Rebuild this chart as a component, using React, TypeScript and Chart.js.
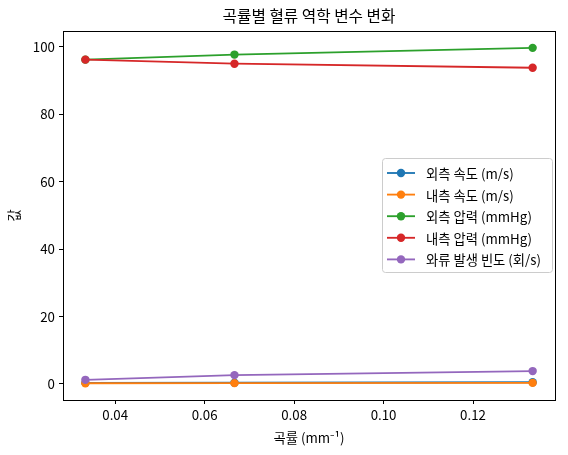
import React, { useEffect, useRef } from "react";
import { Chart, registerables } from "chart.js";

Chart.register(...registerables);

const FONT = "'Noto Sans CJK KR', 'Noto Sans', sans-serif";

const curvature = [1 / 30, 1 / 15, 2 / 15];
const outerVelocity = [0.3, 0.35, 0.5];
const innerVelocity = [0.2, 0.22, 0.3];
const outerPressure = [96.2, 97.7, 99.7];
const innerPressure = [96.2, 95.0, 93.8];
const vortexFreq = [1.2, 2.6, 3.8];

const seriesLabels = [
  "외측 속도 (m/s)",
  "내측 속도 (m/s)",
  "외측 압력 (mmHg)",
  "내측 압력 (mmHg)",
  "와류 발생 빈도 (회/s)",
];
const seriesColors = ["#1f77b4", "#ff7f0e", "#2ca02c", "#d62728", "#9467bd"];
const seriesValues = [outerVelocity, innerVelocity, outerPressure, innerPressure, vortexFreq];

const xTicks = [0.04, 0.06, 0.08, 0.1, 0.12];
const yTicks = [0, 20, 40, 60, 80, 100];

const title = "곡률별 혈류 역학 변수 변화";
const xTitle = "곡률 (mm⁻¹)";
const yTitle = "값";

const LABEL_SIZE = 13.3;
const TITLE_SIZE = 15.7;

const framePlugin = {
  id: "frame",
  afterDatasetsDraw(chart: any) {
    const { ctx, chartArea: a } = chart;
    ctx.save();
    ctx.strokeStyle = "#000";
    ctx.lineWidth = 1;
    ctx.strokeRect(Math.round(a.left) + 0.5, Math.round(a.top) + 0.5, Math.round(a.right - a.left), Math.round(a.bottom - a.top));
    ctx.restore();
  },
};

const titlePlugin = {
  id: "areaTitle",
  afterDraw(chart: any) {
    const { ctx, chartArea: a } = chart;
    ctx.save();
    ctx.font = `${TITLE_SIZE}px ${FONT}`;
    ctx.fillStyle = "#000";
    ctx.textAlign = "center";
    ctx.textBaseline = "middle";
    ctx.fillText(title, (a.left + a.right) / 2, 16);
    ctx.restore();
  },
};

const legendPlugin = {
  id: "mplLegend",
  afterDraw(chart: any) {
    const { ctx } = chart;
    const ds = chart.data.datasets;
    const bx = 382.5, by = 158.5, bw = 170, bh = 114;
    ctx.save();
    ctx.fillStyle = "rgba(255,255,255,0.8)";
    ctx.strokeStyle = "#cccccc";
    ctx.lineWidth = 1;
    ctx.beginPath();
    (ctx as any).roundRect(bx, by, bw, bh, 3);
    ctx.fill();
    ctx.stroke();
    ctx.font = `${LABEL_SIZE}px ${FONT}`;
    ctx.textBaseline = "middle";
    ctx.textAlign = "left";
    ds.forEach((d: any, i: number) => {
      const y = 173 + i * 21.6;
      ctx.strokeStyle = d.borderColor;
      ctx.lineWidth = 1.85;
      ctx.beginPath();
      ctx.moveTo(387, y);
      ctx.lineTo(415, y);
      ctx.stroke();
      ctx.fillStyle = d.borderColor;
      ctx.beginPath();
      ctx.arc(401, y, 4.2, 0, Math.PI * 2);
      ctx.fill();
      ctx.fillStyle = "#000";
      ctx.fillText(d.label, 426, y + 1);
    });
    ctx.restore();
  },
};

export default function App() {
  const ref = useRef<HTMLCanvasElement>(null);
  useEffect(() => {
    document.body.style.margin = "0";
    const datasets = seriesLabels.map((label, i) => ({
      label,
      data: curvature.map((x, j) => ({ x, y: seriesValues[i][j] })),
      borderColor: seriesColors[i],
      backgroundColor: seriesColors[i],
      pointBackgroundColor: seriesColors[i],
      pointBorderWidth: 0,
      pointRadius: 4.2,
      borderWidth: 1.85,
      tension: 0,
      order: seriesLabels.length - i,
    }));
    const chart = new Chart(ref.current as HTMLCanvasElement, {
      type: "line",
      data: { datasets },
      options: {
        responsive: false,
        animation: false,
        devicePixelRatio: 1,
        layout: { padding: { left: 0, right: 13, top: 31, bottom: 0 } },
        plugins: {
          legend: { display: false },
          tooltip: { enabled: false },
          title: { display: false },
        },
        scales: {
          x: {
            type: "linear",
            min: 0.02833,
            max: 0.13833,
            afterFit: (s: any) => { s.height = 55; },
            afterBuildTicks: (s: any) => { s.ticks = xTicks.map((v) => ({ value: v })); },
            ticks: {
              color: "#000",
              font: { family: FONT, size: LABEL_SIZE },
              padding: 3,
              maxRotation: 0,
              callback: (v: any) => Number(v).toFixed(2),
            },
            grid: { drawOnChartArea: false, drawTicks: true, tickLength: 4, color: "#000", tickColor: "#000" },
            border: { display: true, color: "#000" },
            title: {
              display: true,
              text: xTitle,
              color: "#000",
              font: { family: FONT, size: LABEL_SIZE },
              padding: { top: 9, bottom: 9 },
            },
          },
          y: {
            type: "linear",
            min: -4.78,
            max: 104.7,
            afterFit: (s: any) => { s.width = 63; },
            afterBuildTicks: (s: any) => { s.ticks = yTicks.map((v) => ({ value: v })); },
            ticks: {
              color: "#000",
              font: { family: FONT, size: LABEL_SIZE },
              padding: 4,
              callback: (v: any) => String(v),
            },
            grid: { drawOnChartArea: false, drawTicks: true, tickLength: 4, color: "#000", tickColor: "#000" },
            border: { display: true, color: "#000" },
            title: {
              display: true,
              text: yTitle,
              color: "#000",
              font: { family: FONT, size: LABEL_SIZE },
              padding: { top: 6, bottom: 4 },
            },
          },
        },
      } as any,
      plugins: [framePlugin, titlePlugin, legendPlugin],
    });
    return () => chart.destroy();
  }, []);
  return <canvas ref={ref} width={568} height={455} style={{ display: "block" }} />;
}
